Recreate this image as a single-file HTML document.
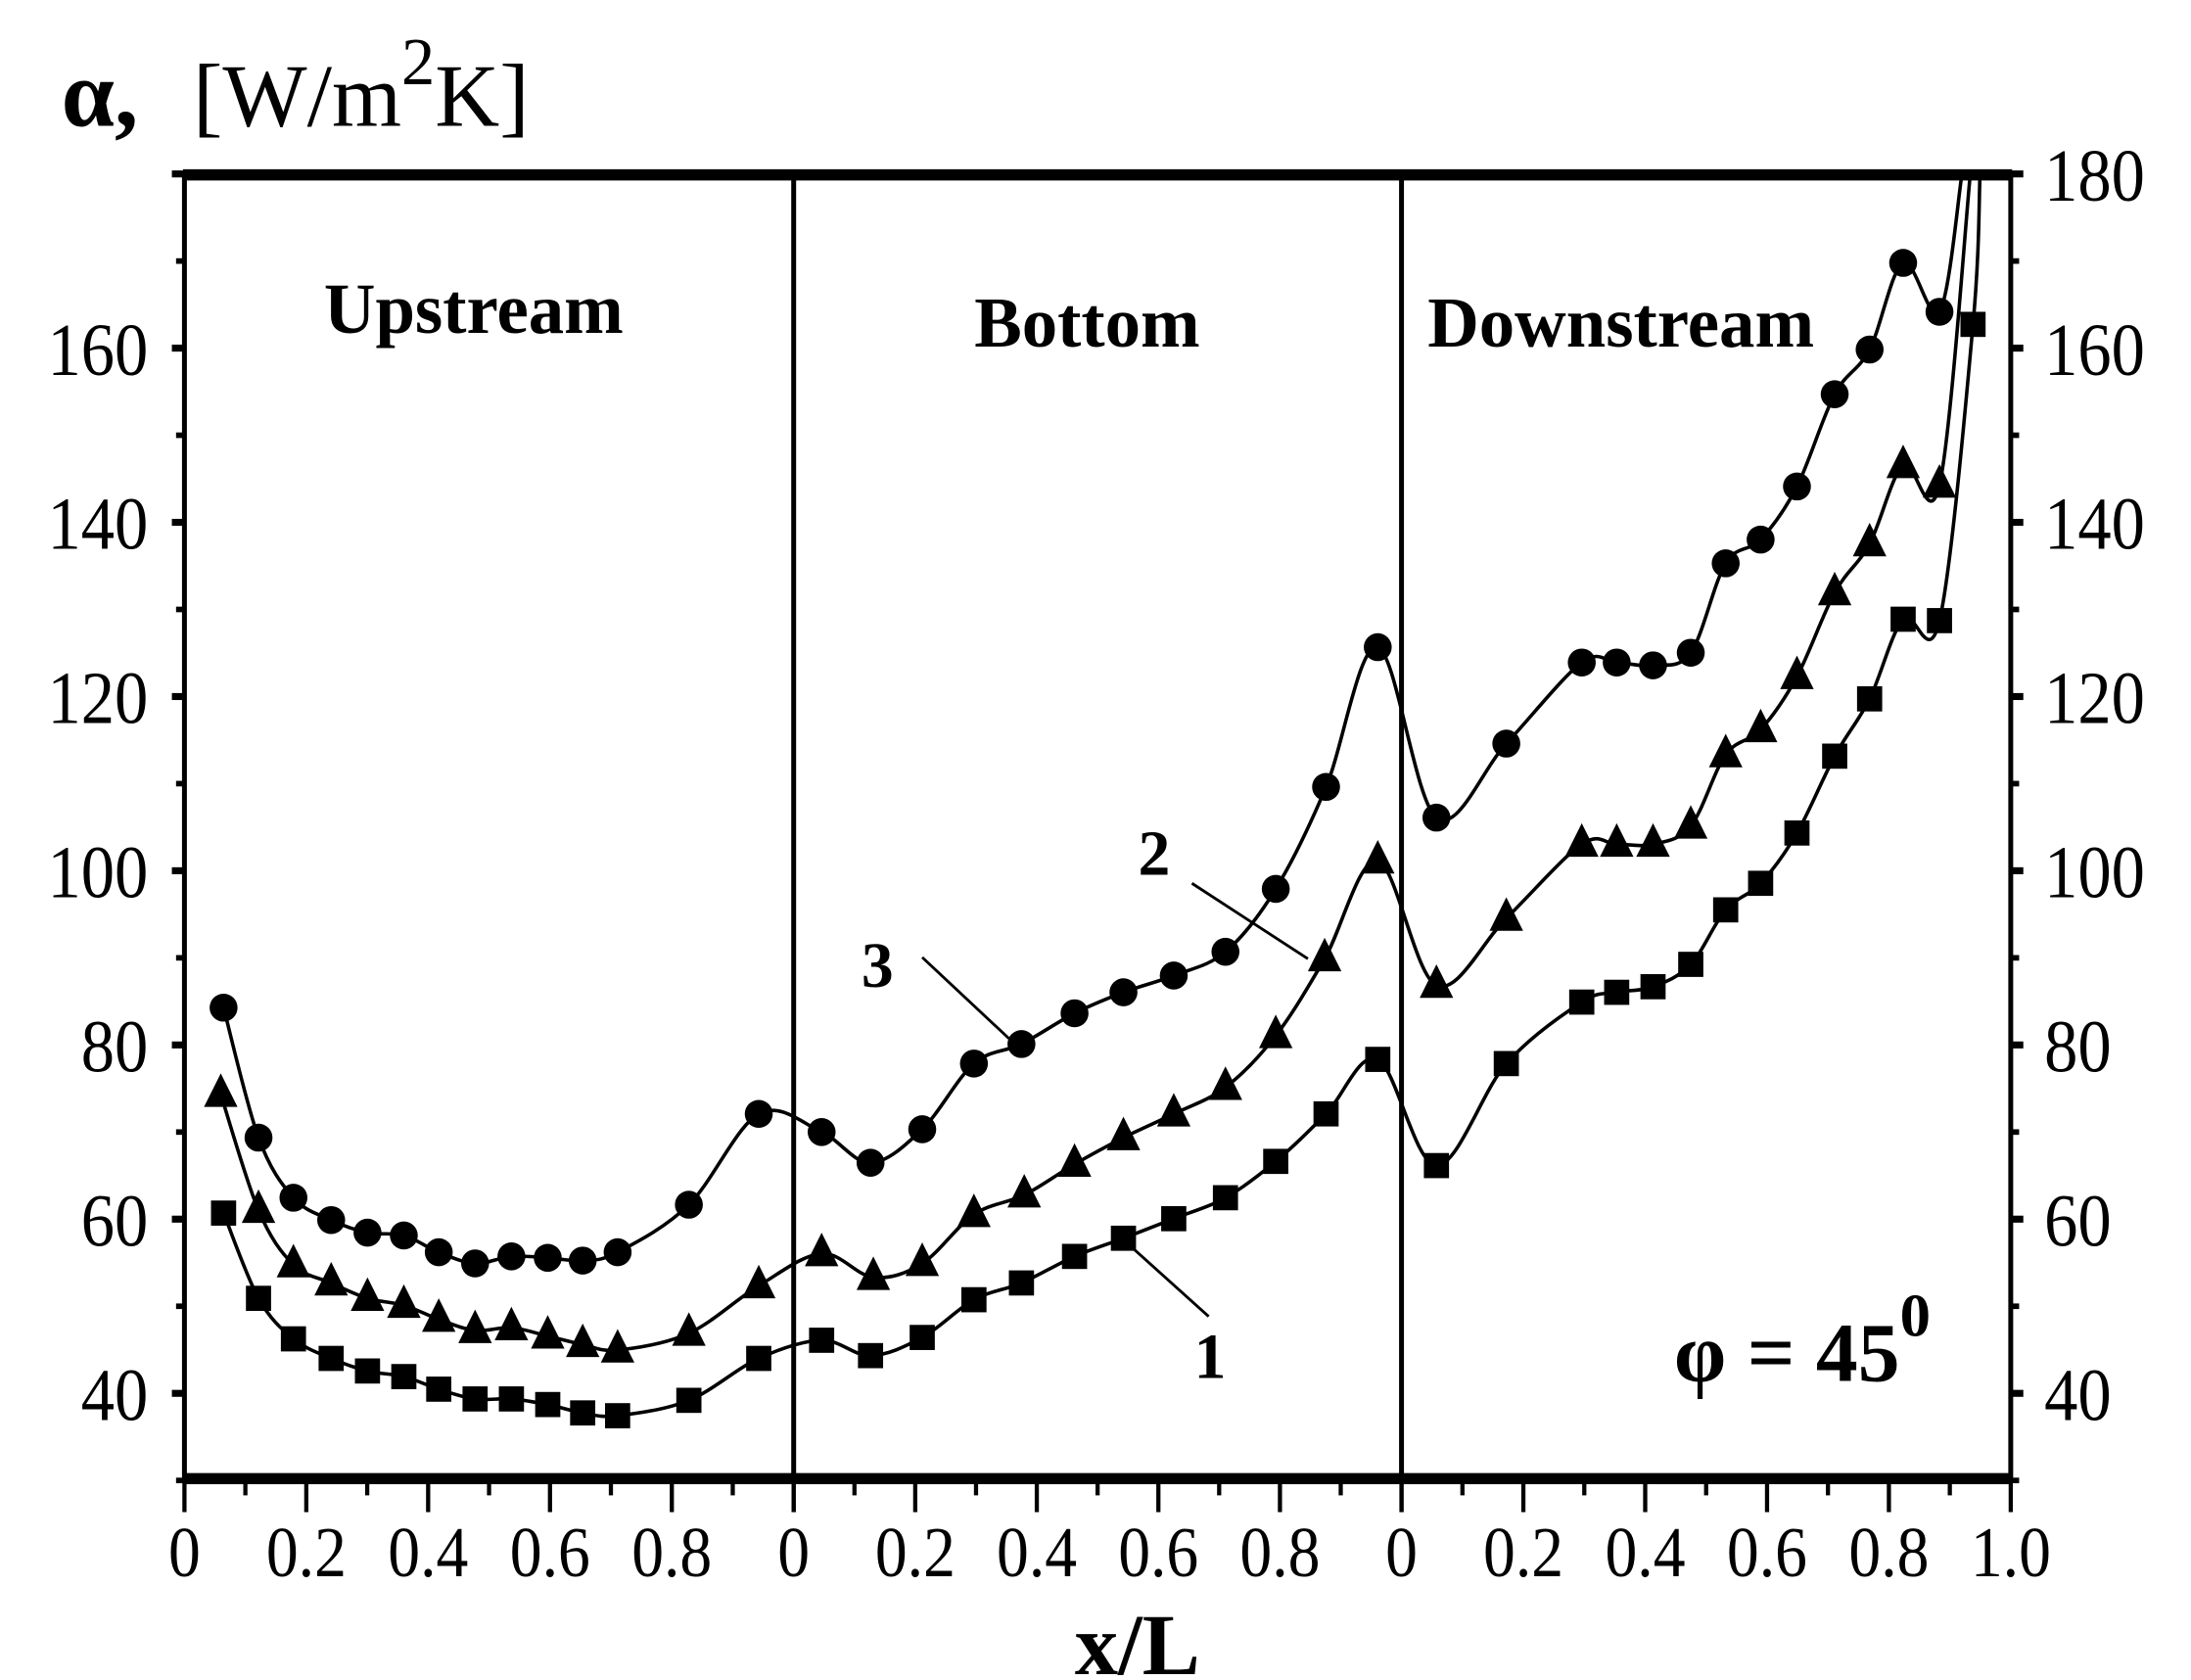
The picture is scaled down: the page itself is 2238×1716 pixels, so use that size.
<!DOCTYPE html>
<html><head><meta charset="utf-8"><style>
html,body{margin:0;padding:0;background:#fff}
svg{display:block}
text{font-family:"Liberation Serif",serif;fill:#000}
</style></head><body>
<svg id="s" width="2238" height="1716" viewBox="0 0 1568 1202" xmlns="http://www.w3.org/2000/svg">
<rect width="1568" height="1202" fill="#fff"/>
<g id="g"></g>
<text x="44" y="90" font-size="68" font-weight="bold">α,</text>
<text x="138" y="90" font-size="64">[W/m<tspan dy="-30" font-size="48">2</tspan><tspan dy="30">K]</tspan></text>
<text x="339" y="238" font-size="51" font-weight="bold" text-anchor="middle">Upstream</text>
<text x="778" y="248" font-size="51" font-weight="bold" text-anchor="middle">Bottom</text>
<text x="1160" y="248" font-size="51" font-weight="bold" text-anchor="middle">Downstream</text>
<text x="814" y="1198" font-size="62" font-weight="bold" text-anchor="middle">x/L</text>
<text x="1198" y="988" font-size="60" font-weight="bold">φ = 45<tspan dy="-32" font-size="44">0</tspan></text>
<text x="628" y="706" font-size="46" font-weight="bold" text-anchor="middle">3</text>
<text x="826" y="626" font-size="46" font-weight="bold" text-anchor="middle">2</text>
<text x="866" y="986" font-size="46" font-weight="bold" text-anchor="middle">1</text>
</svg>
<script>
var g=document.getElementById('g'),h='';
function Y(v){return 997-(v-40)*6.2333;}
h+='<line x1="131" y1="125" x2="1440" y2="125" stroke="#000" stroke-width="8"/>';
h+='<line x1="131" y1="1058" x2="1440" y2="1058" stroke="#000" stroke-width="8"/>';
h+='<line x1="132" y1="125" x2="132" y2="1058" stroke="#000" stroke-width="3.5"/>';
h+='<line x1="1439" y1="125" x2="1439" y2="1058" stroke="#000" stroke-width="3.5"/>';
h+='<line x1="568" y1="125" x2="568" y2="1058" stroke="#000" stroke-width="3.5"/>';
h+='<line x1="1003" y1="125" x2="1003" y2="1058" stroke="#000" stroke-width="3.5"/>';
for(var v=30;v<=180;v+=10){var y=Y(v),maj=(v%20==0);var L=maj?9:6;
h+='<line x1="'+(132-L)+'" y1="'+y+'" x2="132" y2="'+y+'" stroke="#000" stroke-width="'+(maj?5:4)+'"/>';
h+='<line x1="1439" y1="'+y+'" x2="'+(1439+L)+'" y2="'+y+'" stroke="#000" stroke-width="'+(maj?5:4)+'"/>';
if(maj){ if(v<=160&&v>=40) h+='<text x="106" y="'+(y+17)+'" font-size="48" text-anchor="end" transform="translate(0,'+(y)+') scale(1,1.12) translate(0,'+(-y)+')">'+v+'</text>';
 if(v>=40) h+='<text x="1463" y="'+(y+17)+'" font-size="48" transform="translate(0,'+(y)+') scale(1,1.12) translate(0,'+(-y)+')">'+v+'</text>';}}
var secs=[[132,568],[568,1003],[1003,1439]];
secs.forEach(function(s,si){for(var i=0;i<=10;i++){var x=s[0]+(s[1]-s[0])*i/10;var maj=i%2==0;
h+='<line x1="'+x+'" y1="1058" x2="'+x+'" y2="'+(1058+(maj?24:12))+'" stroke="#000" stroke-width="3"/>';
if(maj&&(i<10||si==2)){var t=i==0?'0':(i==10?'1.0':'0.'+i);h+='<text x="'+x+'" y="1128" font-size="46" text-anchor="middle" transform="translate(0,1128) scale(1,1.12) translate(0,-1128)">'+t+'</text>';}}});
var s3=[[160,721],[185,814],[210,857],[237,873],[263,882],[289,884],[314,896],[340,904],[366,899],[392,900],[417,902],[442,896],[493,862],[543,797],[588,810],[623,832],[660,808],[697,761],[731,747],[769,725],[804,710],[840,698],[877,681],[913,636],[949,563],[986,463],[1028,585],[1078,532],[1132,474],[1157,474],[1183,476],[1210,467],[1235,403],[1260,386],[1286,348],[1313,282],[1338,250],[1362,188],[1388,223]];
var s2=[[158,783],[185,866],[210,905],[237,918],[263,929],[289,934],[314,944],[340,952],[366,950],[392,956],[417,962],[442,966],[493,954],[543,920],[588,897],[625,914],[660,904],[697,869],[733,855],[769,833],[804,814],[840,797],[877,778],[913,741],[948,686],[986,616],[1028,705],[1078,657],[1132,604],[1157,604],[1183,604],[1210,591],[1235,540],[1260,522],[1286,484],[1313,424],[1338,389],[1362,333],[1388,347]];
var s1=[[160,868],[185,929],[210,958],[237,972],[263,981],[289,985],[314,994],[340,1001],[366,1001],[392,1005],[417,1011],[442,1013],[493,1002],[543,972],[588,959],[623,970],[660,957],[697,930],[731,918],[769,899],[804,886],[840,872],[877,857],[913,831],[949,797],[986,758],[1028,834],[1078,761],[1132,717],[1157,710],[1183,706],[1210,690],[1235,651],[1260,632],[1286,596],[1313,541],[1338,500],[1362,443],[1388,444],[1412,232]];
function path(p,end){var q=p.concat(end);var d='M'+q[0][0]+','+q[0][1];
for(var i=0;i<q.length-1;i++){var a=q[i-1]||q[i],b=q[i],c=q[i+1],e=q[i+2]||c;
d+=' C'+(b[0]+(c[0]-a[0])/6)+','+(b[1]+(c[1]-a[1])/6)+' '+(c[0]-(e[0]-b[0])/6)+','+(c[1]-(e[1]-b[1])/6)+' '+c[0]+','+c[1];}
return '<path d="'+d+'" fill="none" stroke="#000" stroke-width="2.5"/>';}
h+=path(s3,[[1404,125]]);h+=path(s2,[[1410,125]]);h+=path(s1,[[1417,125]]);
s3.forEach(function(p){h+='<circle cx="'+p[0]+'" cy="'+p[1]+'" r="10"/>';});
s2.forEach(function(p){var x=p[0],y=p[1];h+='<polygon points="'+x+','+(y-15)+' '+(x-12)+','+(y+9)+' '+(x+12)+','+(y+9)+'"/>';});
s1.forEach(function(p){h+='<rect x="'+(p[0]-9)+'" y="'+(p[1]-9)+'" width="18" height="18"/>';});
h+='<line x1="660" y1="685" x2="722" y2="743" stroke="#000" stroke-width="2"/>';
h+='<line x1="853" y1="632" x2="936" y2="686" stroke="#000" stroke-width="2"/>';
h+='<line x1="865" y1="942" x2="805" y2="888" stroke="#000" stroke-width="2"/>';
g.innerHTML=h;
</script>
</body></html>
